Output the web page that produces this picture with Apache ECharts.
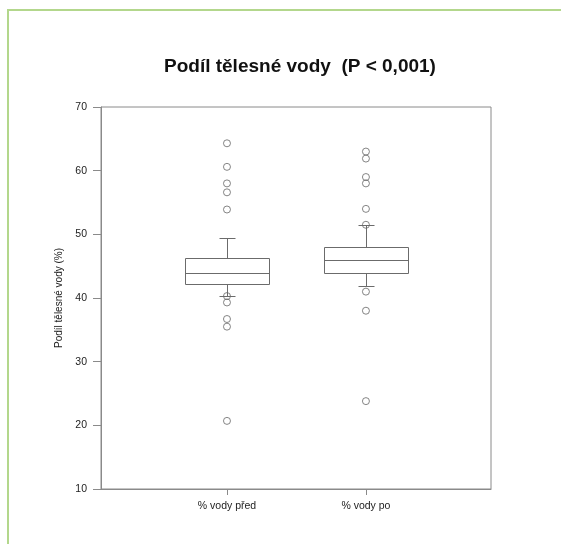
<!DOCTYPE html>
<html>
<head>
<meta charset="utf-8">
<title>Podíl tělesné vody</title>
<script src="https://cdn.jsdelivr.net/npm/echarts@6/dist/echarts.min.js"></script>
<style>
  html, body { margin: 0; padding: 0; background: #fff; }
  #chart { width: 561px; height: 544px; }
</style>
</head>
<body>
<div id="chart"></div>
<script>
// Box summaries for body water share before and after
const categories = ['% vody před', '% vody po'];
const whiskerLow = [40.3, 41.9];
const quartile1 = [42.2, 43.9];
const medians = [44.0, 45.9];
const quartile3 = [46.3, 48.0];
const whiskerHigh = [49.4, 51.4];

// Points outside the whiskers, per group
const outliersBefore = [64.3, 60.6, 58.0, 56.6, 53.9, 40.3, 39.3, 36.7, 35.5, 20.7];
const outliersAfter = [63.0, 61.9, 59.0, 58.0, 54.0, 51.5, 41.0, 38.0, 23.8];

// Y axis ticks
const yTicks = [10, 20, 30, 40, 50, 60, 70];

const FONT = "'Liberation Sans', Arial, sans-serif";
const LINE = '#6b6b6b';
const AXIS = '#8a8a8a';

const groupPositions = categories.map((c, i) => i + 1);

const boxData = categories.map((c, i) => [
  groupPositions[i], whiskerLow[i], quartile1[i], medians[i], quartile3[i], whiskerHigh[i]
]);

const outlierData = []
  .concat(outliersBefore.map(v => [groupPositions[0], v]))
  .concat(outliersAfter.map(v => [groupPositions[1], v]));

function renderBox(params, api) {
  const x = api.value(0);
  const p = [1, 2, 3, 4, 5].map(i => api.coord([x, api.value(i)]));
  const cx = Math.round(p[0][0]) + 0.5;
  const half = 42;
  const cap = 8;
  const ys = p.map(q => Math.round(q[1]) + 0.5);
  const lineStyle = { stroke: LINE, lineWidth: 1 };
  const seg = (x1, y1, x2, y2) => ({
    type: 'line',
    shape: { x1: x1, y1: y1, x2: x2, y2: y2 },
    style: lineStyle
  });
  return {
    type: 'group',
    children: [
      seg(cx, ys[3], cx, ys[4]),
      seg(cx - cap, ys[4], cx + cap, ys[4]),
      seg(cx, ys[1], cx, ys[0]),
      seg(cx - cap, ys[0], cx + cap, ys[0]),
      {
        type: 'rect',
        shape: { x: cx - half, y: ys[3], width: half * 2, height: ys[1] - ys[3] },
        style: { stroke: LINE, lineWidth: 1, fill: '#fff' }
      },
      seg(cx - half, ys[2], cx + half, ys[2])
    ]
  };
}

const chart = echarts.init(document.getElementById('chart'), null, { renderer: 'canvas' });

chart.setOption({
  animation: false,
  backgroundColor: '#fff',
  textStyle: { fontFamily: FONT },
  title: {
    text: 'Podíl tělesné vody  (P < 0,001)',
    left: 159,
    top: 52,
    textStyle: { fontFamily: FONT, fontSize: 19, fontWeight: 'bold', color: '#111' }
  },
  graphic: [{
    type: 'rect',
    shape: { x: 8, y: 10, width: 700, height: 700 },
    style: { fill: null, stroke: '#b3d78c', lineWidth: 2 },
    silent: true
  }],
  grid: {
    left: 101, top: 107, right: 70, bottom: 55,
    show: true, borderColor: AXIS, borderWidth: 1, backgroundColor: 'transparent'
  },
  xAxis: {
    type: 'value',
    min: 0.0935,
    max: 2.9,
    splitLine: { show: false },
    axisLine: { show: true, lineStyle: { color: AXIS } },
    axisTick: { show: true, length: 6, customValues: groupPositions, lineStyle: { color: AXIS } },
    axisLabel: {
      customValues: groupPositions,
      formatter: v => categories[Math.round(v) - 1] || '',
      margin: 12,
      fontSize: 10.5,
      color: '#222',
      fontFamily: FONT
    }
  },
  yAxis: {
    type: 'value',
    min: yTicks[0],
    max: yTicks[yTicks.length - 1],
    interval: 10,
    name: 'Podíl tělesné vody (%)',
    nameLocation: 'middle',
    nameGap: 33,
    nameTextStyle: { fontSize: 10, color: '#222', fontFamily: FONT },
    splitLine: { show: false },
    axisLine: { show: true, lineStyle: { color: AXIS } },
    axisTick: { show: true, length: 8, lineStyle: { color: AXIS } },
    axisLabel: { margin: 14, fontSize: 10.5, color: '#222', fontFamily: FONT }
  },
  series: [
    {
      type: 'custom',
      renderItem: renderBox,
      encode: { x: 0, y: [1, 2, 3, 4, 5] },
      data: boxData,
      z: 2
    },
    {
      type: 'scatter',
      data: outlierData,
      symbol: 'circle',
      symbolSize: 7,
      itemStyle: { color: 'rgba(0,0,0,0)', borderColor: '#666', borderWidth: 1 },
      z: 3
    }
  ]
});
</script>
</body>
</html>
